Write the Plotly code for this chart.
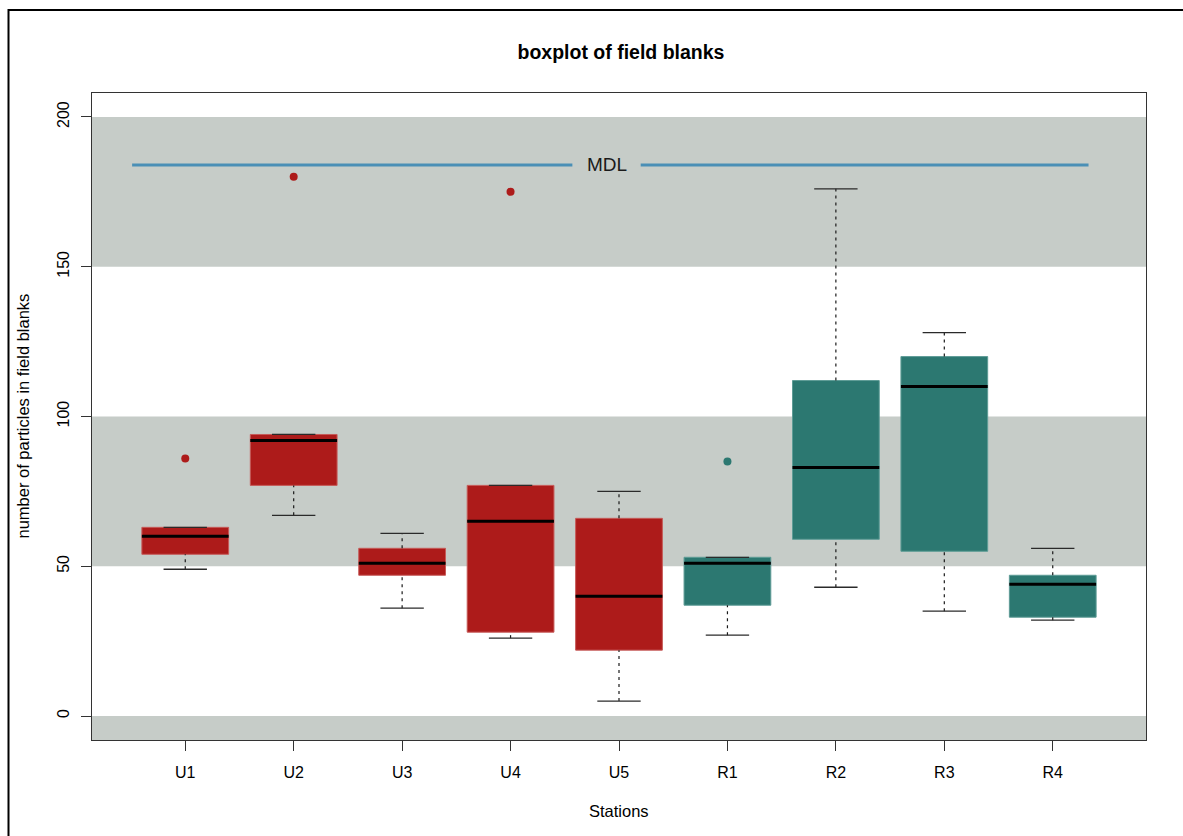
import plotly.graph_objects as go

# Field blank particle counts per station (five-number summaries)
stations = ["U1", "U2", "U3", "U4", "U5", "R1", "R2", "R3", "R4"]
whisker_low = [49, 67, 36, 26, 5, 27, 43, 35, 32]
q1 = [54, 77, 47, 28, 22, 37, 59, 55, 33]
median = [60, 92, 51, 65, 40, 51, 83, 110, 44]
q3 = [63, 94, 56, 77, 66, 53, 112, 120, 47]
whisker_high = [63, 94, 61, 77, 75, 53, 176, 128, 56]

outlier_station = ["U1", "U2", "U4", "R1"]
outlier_value = [86, 180, 175, 85]

# Method detection limit
mdl_value = 184
mdl_label = "MDL"

# shaded horizontal bands (y ranges)
band_lows = [-50, 50, 150]
band_highs = [0, 100, 200]

yticks = [0, 50, 100, 150, 200]

RED = "#AD1B1A"
TEAL = "#2C7871"
station_colors = [RED if s.startswith("U") else TEAL for s in stations]
edge_colors = ["#C65A58" if s.startswith("U") else "#5E9C96" for s in stations]

FONT = "Liberation Sans, Arial, Helvetica, sans-serif"

xpos = list(range(1, len(stations) + 1))
box_w = 0.8
cap_w = 0.4

fig = go.Figure()

# boxes (Q1 -> Q3)
fig.add_trace(go.Bar(
    x=xpos,
    y=[b - a for a, b in zip(q1, q3)],
    base=q1,
    width=box_w,
    marker=dict(color=station_colors, line=dict(color=edge_colors, width=1)),
    showlegend=False,
    hoverinfo="skip",
))

# dashed whiskers
wx, wy = [], []
for x, lo, a, b, hi in zip(xpos, whisker_low, q1, q3, whisker_high):
    wx += [x, x, None, x, x, None]
    wy += [lo, a, None, b, hi, None]
fig.add_trace(go.Scatter(
    x=wx, y=wy, mode="lines",
    line=dict(color="#1a1a1a", width=1.2, dash="3px,4px"),
    showlegend=False, hoverinfo="skip",
))

# whisker caps
cx, cy = [], []
for x, lo, hi in zip(xpos, whisker_low, whisker_high):
    cx += [x - cap_w / 2, x + cap_w / 2, None, x - cap_w / 2, x + cap_w / 2, None]
    cy += [lo, lo, None, hi, hi, None]
fig.add_trace(go.Scatter(
    x=cx, y=cy, mode="lines",
    line=dict(color="#2a2a2a", width=1.3),
    showlegend=False, hoverinfo="skip",
))

# medians
mx, my = [], []
for x, m in zip(xpos, median):
    mx += [x - box_w / 2, x + box_w / 2, None]
    my += [m, m, None]
fig.add_trace(go.Scatter(
    x=mx, y=my, mode="lines",
    line=dict(color="black", width=3),
    showlegend=False, hoverinfo="skip",
))

# outliers
ox = [xpos[stations.index(s)] for s in outlier_station]
oc = [station_colors[stations.index(s)] for s in outlier_station]
fig.add_trace(go.Scatter(
    x=ox, y=outlier_value, mode="markers",
    marker=dict(color=oc, size=8, line=dict(width=0)),
    showlegend=False, hoverinfo="skip",
))

# MDL reference line, broken around its label
mdl_x = [0.51, 4.57, None, 5.2, 9.33]
fig.add_trace(go.Scatter(
    x=mdl_x, y=[mdl_value, mdl_value, None, mdl_value, mdl_value],
    mode="lines", line=dict(color="#4A8FB6", width=3),
    showlegend=False, hoverinfo="skip",
))
fig.add_annotation(
    x=4.885, y=mdl_value, text=mdl_label, showarrow=False,
    font=dict(family=FONT, size=19, color="#1a1a1a"),
    xanchor="center", yanchor="middle",
)

# background bands
for lo, hi in zip(band_lows, band_highs):
    fig.add_shape(
        type="rect", xref="paper", yref="y",
        x0=0, x1=1, y0=lo, y1=hi,
        fillcolor="#C6CCC8", line=dict(width=0), layer="below",
    )

W, H = 1183, 836
ml, mr, mt, mb = 92, 37, 93, 96
pw, ph = W - ml - mr, H - mt - mb


def px_to_paper_x(px):
    return (px - ml) / pw


def px_to_paper_y(py):
    return (H - mb - py) / ph


# outer frame around the graphic
fig.add_shape(
    type="rect", xref="paper", yref="paper",
    x0=px_to_paper_x(8.5), x1=px_to_paper_x(1195),
    y0=px_to_paper_y(850), y1=px_to_paper_y(10),
    line=dict(color="black", width=2), fillcolor="rgba(0,0,0,0)",
)

# axis titles
fig.add_annotation(
    xref="paper", yref="paper",
    x=px_to_paper_x(22), y=0.5,
    text="number of particles in field blanks", textangle=-90,
    showarrow=False, xanchor="center", yanchor="middle",
    font=dict(family=FONT, size=16.5, color="black"),
)
fig.add_annotation(
    xref="paper", yref="paper",
    x=0.5, y=px_to_paper_y(811),
    text="Stations", showarrow=False,
    xanchor="center", yanchor="middle",
    font=dict(family=FONT, size=16.5, color="black"),
)

fig.update_layout(
    width=W, height=H,
    margin=dict(l=ml, r=mr, t=mt, b=mb),
    paper_bgcolor="white", plot_bgcolor="white",
    barmode="overlay",
    title=dict(
        text="<b>boxplot of field blanks</b>",
        x=px_to_paper_x(621), xref="paper", xanchor="center",
        y=1 - 52 / H, yref="container", yanchor="middle",
        font=dict(family=FONT, size=19.5, color="black"),
    ),
    font=dict(family=FONT, size=16, color="black"),
)

fig.update_xaxes(
    range=[0.14, 9.86],
    tickvals=xpos, ticktext=stations,
    ticks="outside", ticklen=10, tickcolor="#333", tickwidth=1,
    showline=True, linecolor="#333", linewidth=1, mirror=True,
    showgrid=False, zeroline=False,
    tickfont=dict(family=FONT, size=16, color="black"),
    ticklabelstandoff=8,
)
fig.update_yaxes(
    range=[-8, 208],
    tickvals=yticks,
    ticks="outside", ticklen=10, tickcolor="#333", tickwidth=1,
    showline=True, linecolor="#333", linewidth=1, mirror=True,
    showgrid=False, zeroline=False,
    tickangle=-90,
    tickfont=dict(family=FONT, size=16, color="black"),
    ticklabelstandoff=6,
)

fig.write_html("out.html")
